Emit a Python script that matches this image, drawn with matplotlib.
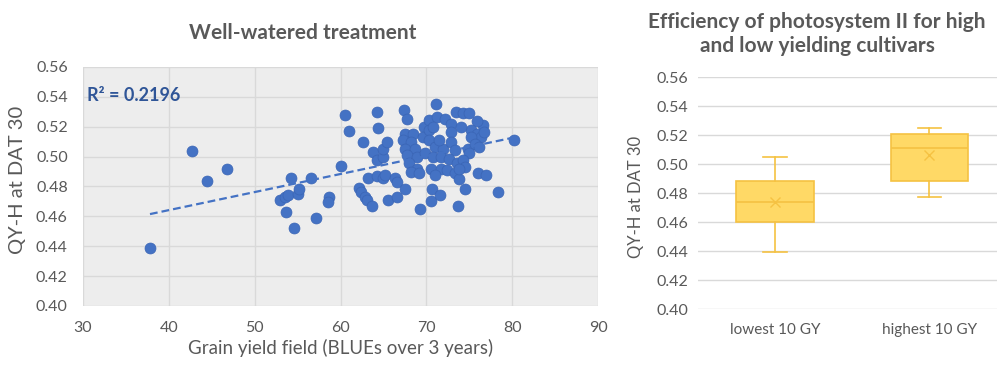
import numpy as np
import matplotlib
matplotlib.use("Agg")
import matplotlib.pyplot as plt

plt.rcParams['font.family'] = ['Lato', 'DejaVu Sans']

# Grain yield (BLUEs over 3 years) vs QY-H at DAT 30, well-watered treatment
grain_yield = [
    37.8, 42.7, 44.5, 46.8, 54.2, 53.7, 54.6, 53.0, 53.5, 53.9, 55.1, 55.2,
    56.6, 57.2, 58.6, 58.5, 60.1, 60.5, 61.0, 62.6, 64.2, 64.4, 62.2, 62.4,
    62.8, 63.1, 63.7, 63.2, 64.3, 64.9, 65.2, 63.8, 64.3, 64.9, 65.0, 65.4,
    65.5, 66.6, 66.4, 66.6, 67.5, 67.4, 67.8, 69.3, 70.6, 70.7, 71.6, 71.1,
    73.7, 74.5, 78.4, 80.2, 76.0, 76.9, 76.6, 75.9, 73.4, 74.3, 75.0, 74.8,
    67.57, 68.50, 67.33, 68.26, 67.57, 68.73, 67.80, 68.96, 68.03, 68.96,
    68.26, 69.19, 69.75, 69.57,
    70.36, 71.29, 72.22, 72.92, 70.36, 72.92, 70.36, 71.06, 71.99, 72.92,
    73.38, 69.89, 70.82, 71.75, 72.69, 73.62, 70.59, 71.75, 72.45, 73.38,
    73.85, 71.06, 70.82, 71.52,
    75.25, 75.94, 76.41, 75.25, 75.71, 76.18, 75.01, 74.31, 74.55, 73.85,
    74.08, 76.73,
]
qy_h = [
    0.439, 0.504, 0.4836, 0.4914, 0.486, 0.463, 0.452, 0.471, 0.473, 0.474,
    0.475, 0.478, 0.486, 0.459, 0.473, 0.4695, 0.494, 0.528, 0.517, 0.510,
    0.530, 0.519, 0.479, 0.476, 0.473, 0.471, 0.467, 0.486, 0.487, 0.486,
    0.488, 0.503, 0.498, 0.500, 0.505, 0.510, 0.471, 0.473, 0.486, 0.483,
    0.478, 0.531, 0.525, 0.465, 0.470, 0.478, 0.474, 0.535, 0.467, 0.478,
    0.476, 0.511, 0.489, 0.488, 0.521, 0.524, 0.530, 0.529, 0.529, 0.505,
    0.5154, 0.5154, 0.5110, 0.5099, 0.5054, 0.5054, 0.5009, 0.4998, 0.4954,
    0.4920, 0.4898, 0.4887, 0.5199, 0.5132,
    0.5243, 0.5266, 0.5255, 0.5221, 0.5177, 0.5165, 0.5110, 0.5065, 0.5054,
    0.5099, 0.5043, 0.5021, 0.4998, 0.4998, 0.4987, 0.4954, 0.4920, 0.4920,
    0.4909, 0.4887, 0.4853, 0.4876, 0.5199, 0.5110,
    0.5177, 0.5154, 0.5132, 0.5132, 0.5087, 0.5065, 0.5021, 0.4976, 0.4931,
    0.4920, 0.5199, 0.5165,
]
r_squared_label = "R² = 0.2196"

# Box statistics of QY-H for the lowest and highest yielding cultivars
groups = ["lowest 10 GY", "highest 10 GY"]
whisker_low = [0.439, 0.477]
q1 = [0.460, 0.488]
median = [0.474, 0.511]
q3 = [0.488, 0.521]
whisker_high = [0.505, 0.525]
mean = [0.474, 0.506]

yticks = [0.40, 0.42, 0.44, 0.46, 0.48, 0.50, 0.52, 0.54, 0.56]

text_gray = "#595959"
grid_gray = "#D9D9D9"
blue = "#4472C4"

W, H = 997, 368
fig = plt.figure(figsize=(W / 100, H / 100), dpi=100)


def fx(px):
    return px / W


def fy(py):
    return 1 - py / H


# ---- scatter panel ----
ax1 = fig.add_axes([0.0833, 0.1685, 0.5165, 0.6495])
ax1.set_facecolor("#EDEDED")
ax1.scatter(grain_yield, qy_h, s=62, color=blue, edgecolors="#3A65B5",
            linewidths=0.5, zorder=3)
x = np.array(grain_yield)
y = np.array(qy_h)
slope, intercept = np.polyfit(x, y, 1)
xs = np.array([x.min(), x.max()])
ax1.plot(xs, intercept + slope * xs, ls=(0, (3.5, 1.8)), color="#4472C4",
         lw=1.6, zorder=4)
ax1.set_xlim(30, 90)
ax1.set_ylim(0.40, 0.56)
ax1.set_xticks(range(30, 91, 10))
ax1.set_yticks(yticks)
ax1.set_yticklabels([f"{t:.2f}" for t in yticks])
ax1.grid(True, color=grid_gray, lw=1.0)
ax1.set_axisbelow(True)
for sp in ax1.spines.values():
    sp.set_visible(False)
ax1.tick_params(axis="y", length=0, labelsize=11.5, colors=text_gray, pad=11)
ax1.tick_params(axis="x", length=0, labelsize=11.5, colors=text_gray, pad=11)
ax1.text(0.007, 0.88, r_squared_label, transform=ax1.transAxes, fontsize=13,
         fontweight="bold", color="#2F5597", va="center", ha="left")

fig.text(fx(303), fy(33), "Well-watered treatment", fontsize=15,
         fontweight="bold", color=text_gray, ha="center", va="center")
fig.text(fx(341), fy(348), "Grain yield field (BLUEs over 3 years)",
         fontsize=13.5, color=text_gray, ha="center", va="center")
fig.text(fx(18), fy(180), "QY-H at DAT 30", fontsize=14.5, color=text_gray,
         ha="center", va="center", rotation=90)

# ---- box panel ----
ax2 = fig.add_axes([0.700, 0.1603, 0.300, 0.6304])
stats = []
for i, g in enumerate(groups):
    stats.append(dict(label=g, whislo=whisker_low[i], q1=q1[i], med=median[i],
                      q3=q3[i], whishi=whisker_high[i], mean=mean[i]))
fill = "#FFD966"
edge = "#F5C242"
ax2.bxp(stats, positions=[0, 1], widths=0.5, showmeans=True,
        showfliers=False, patch_artist=True,
        boxprops=dict(facecolor=fill, edgecolor=edge, lw=1.2),
        medianprops=dict(color=edge, lw=1.2),
        whiskerprops=dict(color=edge, lw=1.2),
        capprops=dict(color=edge, lw=1.2),
        meanprops=dict(marker="x", markeredgecolor=edge, markersize=7,
                       markeredgewidth=1.0),
        capwidths=0.15)
ax2.set_xlim(-0.5, 1.44)
ax2.set_ylim(0.40, 0.56)
ax2.set_yticks(yticks)
ax2.set_yticklabels([f"{t:.2f}" for t in yticks])
ax2.set_xticks([0, 1])
ax2.set_xticklabels(groups)
ax2.yaxis.grid(True, color=grid_gray, lw=1.0)
ax2.set_axisbelow(True)
for sp in ax2.spines.values():
    sp.set_visible(False)
ax2.tick_params(axis="y", length=0, labelsize=11.5, colors=text_gray, pad=7)
ax2.tick_params(axis="x", length=0, labelsize=11, colors=text_gray, pad=10)

fig.text(fx(817), fy(34),
         "Efficiency of photosystem II for high\nand low yielding cultivars",
         fontsize=15, fontweight="bold", color=text_gray, ha="center",
         va="center", linespacing=1.3)
fig.text(fx(636), fy(197), "QY-H at DAT 30", fontsize=12, color=text_gray,
         ha="center", va="center", rotation=90)

fig.savefig("out.png", dpi=100)
